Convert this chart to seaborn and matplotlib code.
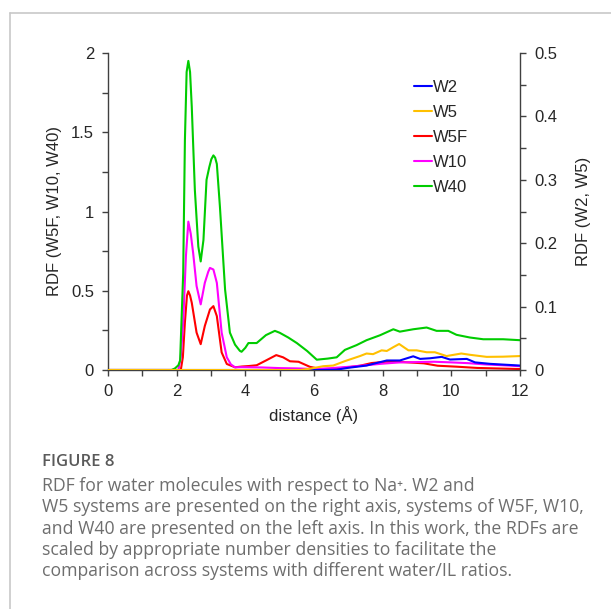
import matplotlib
matplotlib.use('Agg')
import matplotlib.pyplot as plt
from matplotlib.lines import Line2D
import seaborn as sns

# W40 (left axis)
d_w40 = [0, 1.85, 1.95, 2.05, 2.10, 2.19, 2.24, 2.29, 2.34, 2.39, 2.44, 2.53, 2.63, 2.70, 2.78, 2.87,
         2.95, 3.01, 3.07, 3.12, 3.17, 3.26, 3.41, 3.55, 3.70, 3.84, 3.89, 4.0, 4.09, 4.33, 4.6, 4.86,
         5.0, 5.25, 5.5, 5.8, 6.08, 6.4, 6.66, 6.9, 7.24, 7.53, 7.92, 8.31, 8.5, 8.89, 9.28, 9.57,
         9.91, 10.15, 10.54, 10.93, 11.51, 12.0]
w40 = [0, 0, 0.01, 0.03, 0.06, 0.61, 1.45, 1.88, 1.95, 1.88, 1.66, 1.135, 0.78, 0.685, 0.82, 1.20,
       1.28, 1.33, 1.354, 1.34, 1.30, 1.03, 0.508, 0.236, 0.16, 0.121, 0.115, 0.14, 0.17, 0.17, 0.22, 0.247,
       0.235, 0.205, 0.17, 0.12, 0.065, 0.072, 0.08, 0.127, 0.157, 0.188, 0.219, 0.257, 0.242, 0.257, 0.268, 0.247,
       0.247, 0.222, 0.205, 0.194, 0.194, 0.188]

# W10 (left axis)
d_w10 = [0, 2.05, 2.12, 2.19, 2.27, 2.34, 2.41, 2.48, 2.58, 2.70, 2.82, 2.92, 2.97, 3.07, 3.17, 3.31,
         3.46, 3.58, 3.70, 3.9, 4.5, 5.0, 5.5, 6.0, 6.5, 7.0, 7.5, 8.0, 8.5, 9.0, 9.5, 10.0, 10.5,
         11.0, 11.5, 12.0]
w10 = [0, 0, 0.08, 0.30, 0.72, 0.936, 0.86, 0.738, 0.53, 0.414, 0.55, 0.62, 0.644, 0.634, 0.55, 0.236,
       0.08, 0.035, 0.017, 0.018, 0.016, 0.012, 0.01, 0.006, 0.012, 0.02, 0.03, 0.04, 0.048, 0.05, 0.052, 0.048, 0.043,
       0.035, 0.03, 0.024]

# W5F (left axis)
d_w5f = [0, 2.12, 2.18, 2.24, 2.30, 2.34, 2.39, 2.44, 2.58, 2.70, 2.82, 2.97, 3.07, 3.17, 3.31, 3.46,
         3.70, 3.9, 4.1, 4.33, 4.6, 4.9, 5.1, 5.3, 5.55, 5.88, 6.2, 6.5, 7.0, 7.34, 7.68, 8.1, 8.6,
         9.2, 9.6, 10.15, 10.75, 12.0]
w5f = [0, 0, 0.08, 0.30, 0.47, 0.497, 0.47, 0.424, 0.236, 0.163, 0.278, 0.382, 0.403, 0.34, 0.111, 0.038,
       0.017, 0.022, 0.025, 0.03, 0.06, 0.094, 0.08, 0.055, 0.052, 0.02, 0.006, 0.006, 0.017, 0.027, 0.044, 0.052, 0.05,
       0.042, 0.027, 0.021, 0.013, 0.006]

# W5 (right axis)
d_w5 = [0, 5.6, 5.88, 6.27, 6.56, 6.9, 7.34, 7.53, 7.72, 7.97, 8.12, 8.31, 8.48, 8.75, 8.99, 9.28,
        9.52, 9.86, 10.29, 10.54, 11.03, 11.5, 12.0]
w5 = [0, 0, 0.002, 0.006, 0.007, 0.014, 0.022, 0.026, 0.025, 0.031, 0.030, 0.036, 0.041, 0.031, 0.031, 0.028,
      0.028, 0.022, 0.026, 0.024, 0.0207, 0.021, 0.022]

# W2 (right axis)
d_w2 = [0, 6.2, 6.66, 7.0, 7.53, 7.82, 8.12, 8.5, 8.89, 9.09, 9.38, 9.72, 9.96, 10.45, 10.69, 11.13, 12.0]
w2 = [0, 0, 0.0005, 0.0035, 0.007, 0.011, 0.015, 0.015, 0.0216, 0.0175, 0.0185, 0.0207, 0.0165, 0.0175,
      0.012, 0.0097, 0.007]

sns.set_style('ticks')
plt.rcParams['font.family'] = ['Liberation Sans', 'DejaVu Sans']

fig = plt.figure(figsize=(6.11, 6.09), dpi=100)
ax = fig.add_axes([108 / 611, 1 - 370 / 609, 412 / 611, 317 / 609])
ax2 = ax.twinx()

lw = 1.5
sns.lineplot(x=d_w5f, y=w5f, ax=ax, color='#ff0000', lw=lw, estimator=None, sort=False)
sns.lineplot(x=d_w10, y=w10, ax=ax, color='#ff00ff', lw=lw, estimator=None, sort=False)
sns.lineplot(x=d_w40, y=w40, ax=ax, color='#00cc00', lw=lw, estimator=None, sort=False)
sns.lineplot(x=d_w2, y=w2, ax=ax2, color='#0000ff', lw=lw, estimator=None, sort=False)
sns.lineplot(x=d_w5, y=w5, ax=ax2, color='#ffc000', lw=lw, estimator=None, sort=False)

ax.set_xlim(0, 12)
ax.set_ylim(0, 2)
ax2.set_ylim(0, 0.5)
ax.set_xticks([0, 2, 4, 6, 8, 10, 12])
ax.set_xticks(range(13), minor=True)
ax.set_yticks([0, 0.5, 1, 1.5, 2])
ax.set_yticklabels(['0', '0.5', '1', '1.5', '2'])
ax.set_yticks([0.25, 0.75, 1.25, 1.75], minor=True)
ax2.set_yticks([0, 0.1, 0.2, 0.3, 0.4, 0.5])
ax2.set_yticklabels(['0', '0.1', '0.2', '0.3', '0.4', '0.5'])
ax2.set_yticks([0.05, 0.15, 0.25, 0.35, 0.45], minor=True)

for a in (ax, ax2):
    a.spines['top'].set_visible(False)
    for s in a.spines.values():
        s.set_color('#404040')
        s.set_linewidth(1.0)
    a.tick_params(which='both', direction='out', length=4, width=1.0, color='#404040',
                  labelsize=12, pad=6)
ax.spines['right'].set_visible(False)
ax2.spines['left'].set_visible(False)
ax2.spines['bottom'].set_visible(False)

ax.set_xlabel('distance (Å)', fontsize=12, labelpad=5)
ax.set_ylabel('RDF (W5F, W10, W40)', fontsize=12)
ax2.set_ylabel('RDF (W2, W5)', fontsize=12)
ax.yaxis.set_label_coords(-0.112, 0.5)
ax2.yaxis.set_label_coords(1.135, 0.5)

handles = [Line2D([], [], color=c, lw=lw) for c in ['#0000ff', '#ffc000', '#ff0000', '#ff00ff', '#00cc00']]
labels = ['W2', 'W5', 'W5F', 'W10', 'W40']
ax2.legend(handles, labels, loc='upper left', bbox_to_anchor=(414 / 611, 1 - 80 / 609),
           bbox_transform=fig.transFigure, frameon=False, fontsize=12, handlelength=1.1,
           handletextpad=0.05, labelspacing=0.6, borderpad=0, borderaxespad=0)

# page frame lines
fig.add_artist(Line2D([10 / 611, 10 / 611], [1 - 13 / 609, 0], transform=fig.transFigure,
                      color='#c8c8c8', lw=1.2))
fig.add_artist(Line2D([10 / 611, 1], [1 - 13 / 609, 1 - 13 / 609], transform=fig.transFigure,
                      color='#c8c8c8', lw=1.2))

cap_font = ['Open Sans', 'DejaVu Sans']
fig.text(42 / 611, 1 - 462 / 609, 'FIGURE 8', fontsize=12, color='#5a5a5a', family=cap_font,
         fontweight='semibold', va='center')
caption = ['RDF for water molecules with respect to Na⁺. W2 and',
           'W5 systems are presented on the right axis, systems of W5F, W10,',
           'and W40 are presented on the left axis. In this work, the RDFs are',
           'scaled by appropriate number densities to facilitate the',
           'comparison across systems with different water/IL ratios.']
for i, line in enumerate(caption):
    fig.text(42 / 611, 1 - (486 + 21.3 * i) / 609, line, fontsize=12.7, color='#6e6e6e',
             family=cap_font, va='center')

plt.savefig('out.png', dpi=100)
plt.close()
